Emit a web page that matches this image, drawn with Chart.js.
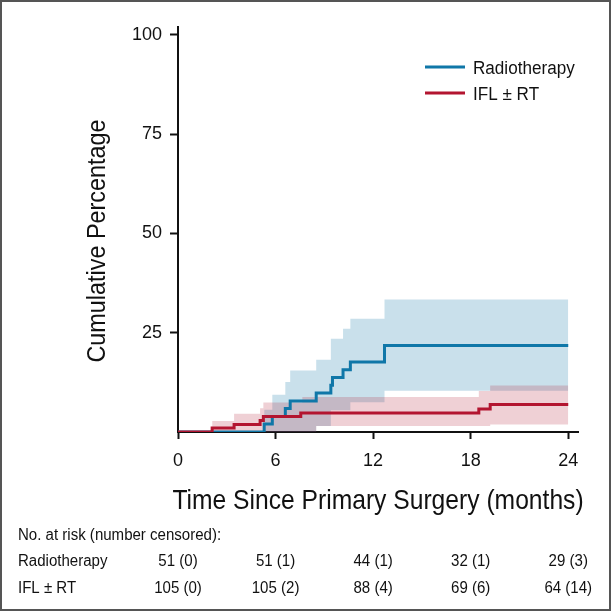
<!DOCTYPE html>
<html>
<head>
<meta charset="utf-8">
<script src="https://cdn.jsdelivr.net/npm/chart.js@4.4.0/dist/chart.umd.min.js"></script>
<style>
  body { margin: 0; background: #fff; }
</style>
</head>
<body>
<canvas id="graficoIncidencia" width="613" height="613"></canvas>
<script>
// curvas de incidencia acumulada (meses, %)
const tempoRT = [0, 5.3, 5.8, 6.6, 6.9, 8.5, 9.4, 9.5, 10.15, 10.6, 12.7, 24]
const acumRT = [0, 2.0, 3.9, 5.9, 7.8, 9.8, 11.8, 13.7, 15.7, 17.6, 21.8, 21.8]

const tempoIFL = [0, 2.1, 3.45, 5.05, 5.25, 7.55, 18.5, 19.2, 24]
const acumIFL = [0, 1.0, 1.9, 2.9, 3.9, 4.8, 5.8, 6.9, 6.9]

// intervalos de confianca
const tempoFaixaRT = [5.3, 5.8, 6.6, 6.9, 8.5, 9.4, 10.15, 10.6, 12.7, 24]
const superiorRT = [5.6, 9.4, 12.6, 15.5, 18.2, 23.5, 26.0, 28.5, 33.4, 33.4]
const inferiorRT = [0, 0, 0, 0, 1.5, 5.5, 5.5, 7.5, 10.4, 10.4]

const tempoFaixaIFL = [2.1, 3.45, 5.05, 5.25, 7.65, 8.5, 18.5, 19.2, 24]
const superiorIFL = [2.8, 4.6, 6.0, 7.4, 8.8, 8.8, 10.3, 11.7, 11.7]
const inferiorIFL = [0, 0, 0, 0, 0, 1.5, 1.5, 1.9, 1.9]

const marcasX = [0, 6, 12, 18, 24]
const marcasY = [25, 50, 75, 100]

// numero em risco (censurados)
const tempoRisco = [0, 6, 12, 18, 24]
const riscoRT = [51, 51, 44, 32, 29]
const censRT = [0, 1, 1, 1, 3]
const riscoIFL = [105, 105, 88, 69, 64]
const censIFL = [0, 2, 4, 6, 14]

const azul = '#0f77a8'
const vermelho = '#b31530'
const fonte = "'Liberation Sans', Arial, sans-serif"

function pontos(tempos, valores){
    return tempos.map((t, i) => ({ x: t, y: valores[i] }))
}

function texto(ctx, str, x, y, tamanho, escala, alinhamento){
    ctx.save()
    ctx.font = tamanho + 'px ' + fonte
    ctx.textAlign = alinhamento || 'left'
    ctx.textBaseline = 'alphabetic'
    ctx.translate(x, y)
    ctx.scale(escala, 1)
    ctx.fillText(str, 0, 0)
    ctx.restore()
}

const extras = {
    id: 'extras',
    afterDraw(chart){
        const ctx = chart.ctx
        const escalaX = chart.scales.x
        ctx.fillStyle = '#111'

        // titulo do eixo y
        ctx.save()
        ctx.translate(105, 241)
        ctx.rotate(-Math.PI / 2)
        ctx.scale(0.9, 1)
        ctx.font = '26px ' + fonte
        ctx.textAlign = 'center'
        ctx.fillText('Cumulative Percentage', 0, 0)
        ctx.restore()

        texto(ctx, 'Time Since Primary Surgery (months)', 378, 509, 28, 0.88, 'center')

        // legenda
        const linhas = chart.data.datasets.filter(d => d.legenda)
        linhas.forEach((d, i) => {
            const y = 67 + i * 26
            ctx.save()
            ctx.strokeStyle = d.borderColor
            ctx.lineWidth = 3
            ctx.beginPath()
            ctx.moveTo(425, y)
            ctx.lineTo(465, y)
            ctx.stroke()
            ctx.restore()
            texto(ctx, d.label, 473, y + 6.5, 18, 0.95)
        })

        // tabela de risco
        texto(ctx, 'No. at risk (number censored):', 18, 540, 16, 0.94)
        texto(ctx, 'Radiotherapy', 18, 566, 16, 0.94)
        texto(ctx, 'IFL \u00b1 RT', 18, 593, 16, 0.94)
        tempoRisco.forEach((t, i) => {
            const px = escalaX.getPixelForValue(t)
            texto(ctx, riscoRT[i] + ' (' + censRT[i] + ')', px, 566, 16, 0.94, 'center')
            texto(ctx, riscoIFL[i] + ' (' + censIFL[i] + ')', px, 593, 16, 0.94, 'center')
        })

        // moldura
        ctx.save()
        ctx.strokeStyle = '#555'
        ctx.lineWidth = 2
        ctx.strokeRect(1, 1, 609, 609)
        ctx.restore()
    }
}

const grafico = new Chart(document.getElementById('graficoIncidencia'), {
    type: 'line',
    data: {
      datasets: [
        { label: 'Radiotherapy', legenda: true, data: pontos(tempoRT, acumRT), borderColor: azul, borderWidth: 3, pointRadius: 0, stepped: true, fill: false, order: 1 },
        { label: 'IFL \u00b1 RT', legenda: true, data: pontos(tempoIFL, acumIFL), borderColor: vermelho, borderWidth: 3, pointRadius: 0, stepped: true, fill: false, order: 0 },
        { label: 'rt sup', data: pontos(tempoFaixaRT, superiorRT), borderWidth: 0, pointRadius: 0, stepped: true, fill: '+1', backgroundColor: 'rgba(11,116,166,0.22)', order: 3 },
        { label: 'rt inf', data: pontos(tempoFaixaRT, inferiorRT), borderWidth: 0, pointRadius: 0, stepped: true, fill: false, order: 3 },
        { label: 'ifl sup', data: pontos(tempoFaixaIFL, superiorIFL), borderWidth: 0, pointRadius: 0, stepped: true, fill: '+1', backgroundColor: 'rgba(176,21,46,0.2)', order: 2 },
        { label: 'ifl inf', data: pontos(tempoFaixaIFL, inferiorIFL), borderWidth: 0, pointRadius: 0, stepped: true, fill: false, order: 2 }
      ]
    },
    options: {
      responsive: false,
      devicePixelRatio: 1,
      animation: false,
      layout: { padding: { top: 27, right: 35, left: 0, bottom: 0 } },
      plugins: { legend: { display: false }, tooltip: { enabled: false } },
      scales: {
        x: {
          type: 'linear', min: 0, max: 24.6,
          afterFit: s => { s.height = 181 },
          afterBuildTicks: s => { s.ticks = marcasX.map(v => ({ value: v })) },
          ticks: { font: { family: fonte, size: 18 }, color: '#111', padding: 11, maxRotation: 0, autoSkip: false },
          grid: { drawOnChartArea: false, drawTicks: true, tickLength: 7, tickColor: '#111', tickWidth: 2 },
          border: { display: true, color: '#111', width: 2 }
        },
        y: {
          type: 'linear', min: 0, max: 102,
          afterFit: s => { s.width = 178 },
          afterBuildTicks: s => { s.ticks = marcasY.map(v => ({ value: v })) },
          ticks: { font: { family: fonte, size: 18 }, color: '#111', padding: 8 },
          grid: { drawOnChartArea: false, drawTicks: true, tickLength: 8, tickColor: '#111', tickWidth: 2 },
          border: { display: true, color: '#111', width: 2 }
        }
      }
    },
    plugins: [extras]
})
</script>
</body>
</html>
